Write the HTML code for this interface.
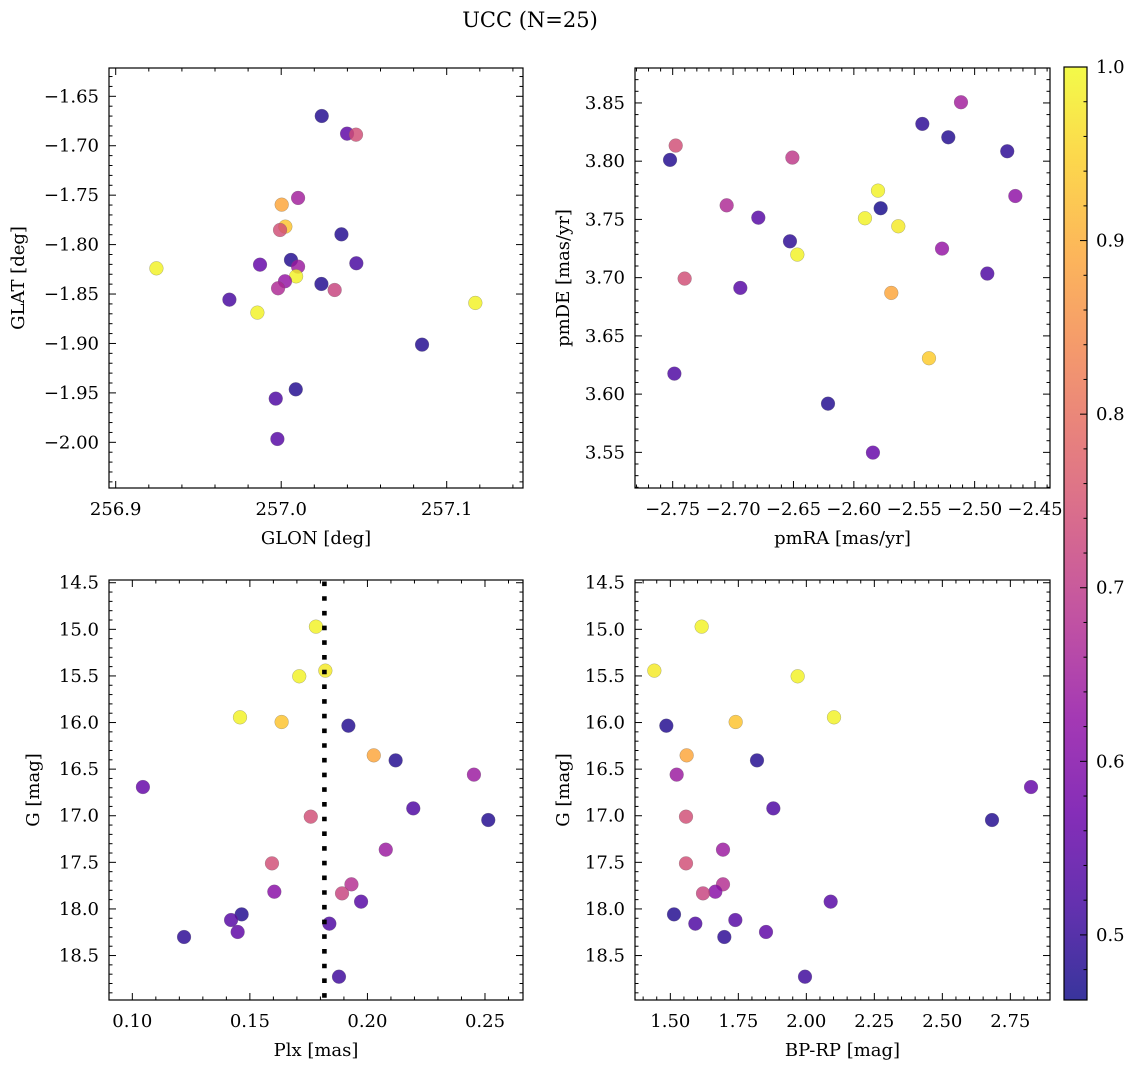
<!DOCTYPE html>
<html><head><meta charset="utf-8"><style>
body{margin:0;background:#fff;}
svg text{font-family:"DejaVu Serif","Liberation Serif",serif;fill:#000;}
</style></head><body>
<svg id="fig" width="1136" height="1067" xmlns="http://www.w3.org/2000/svg">
<rect width="1136" height="1067" fill="#fff"/>
<text x="530" y="27" font-size="21" text-anchor="middle">UCC (N=25)</text>
</svg>
<script>
// ---- Panel 1 data: GLON / GLAT ----
const glon1 = [257.0245,257.0398,257.0452,257.0102,257.0003,257.0025,256.9993,257.0364,256.9246,256.9872,257.0059,257.0102,257.0454,257.0090,256.9687,257.0023,256.9981,257.0243,257.0323,257.1173,256.9856,257.0851,257.0088,256.9967,256.9977];
const glat1 = [-1.6699,-1.6878,-1.6888,-1.7528,-1.7596,-1.7818,-1.7852,-1.7896,-1.8240,-1.8203,-1.8155,-1.8223,-1.8189,-1.8321,-1.8557,-1.8371,-1.8442,-1.8398,-1.8459,-1.8590,-1.8688,-1.9012,-1.9464,-1.9558,-1.9966];
const prob1 = [0.48,0.55,0.74,0.65,0.89,0.93,0.74,0.48,0.99,0.56,0.48,0.64,0.52,0.99,0.52,0.63,0.67,0.48,0.72,0.99,0.99,0.48,0.48,0.53,0.54];
// ---- Panel 2 data: pmRA / pmDE ----
const pmra2 = [-2.5113,-2.5433,-2.5218,-2.4730,-2.7475,-2.7522,-2.6509,-2.5800,-2.4663,-2.7053,-2.5778,-2.6791,-2.5908,-2.5632,-2.6529,-2.6468,-2.5270,-2.4895,-2.7401,-2.6940,-2.5690,-2.5378,-2.7486,-2.6214,-2.5842];
const pmde2 = [3.8506,3.8320,3.8205,3.8085,3.8134,3.8011,3.8031,3.7747,3.7701,3.7621,3.7596,3.7515,3.7510,3.7441,3.7312,3.7198,3.7249,3.7035,3.6992,3.6912,3.6869,3.6308,3.6176,3.5918,3.5498];
const prob2 = [0.65,0.49,0.48,0.49,0.74,0.48,0.70,0.99,0.62,0.67,0.47,0.54,0.99,0.98,0.49,0.99,0.63,0.53,0.74,0.54,0.89,0.94,0.53,0.48,0.56];
// ---- Panels 3 & 4 data: Plx, BP-RP, G ----
const gmag = [14.971,15.443,15.504,15.944,15.994,16.034,16.352,16.406,16.559,16.692,16.921,17.046,17.010,17.364,17.511,17.736,17.815,17.833,17.922,18.058,18.119,18.158,18.247,18.301,18.727];
const plx = [0.1781,0.1821,0.1710,0.1458,0.1635,0.1919,0.2027,0.2120,0.2453,0.1045,0.2195,0.2514,0.1759,0.2078,0.1594,0.1932,0.1604,0.1892,0.1973,0.1465,0.1420,0.1838,0.1448,0.1220,0.1879];
const bprp = [1.6152,1.4412,1.9681,2.1017,1.7402,1.4853,1.5600,1.8186,1.5233,2.8260,1.8787,2.6826,1.5576,1.6936,1.5576,1.6936,1.6654,1.6201,2.0895,1.5135,1.7390,1.5919,1.8517,1.6985,1.9951];
const prob34 = [0.99,0.98,0.99,0.99,0.93,0.48,0.89,0.48,0.64,0.56,0.53,0.48,0.74,0.64,0.74,0.68,0.61,0.72,0.54,0.48,0.54,0.53,0.55,0.49,0.51];
const plxLine = 0.1817;
// ---- ticks ----
const xt1 = [256.9,257.0,257.1], xl1 = ["256.9","257.0","257.1"];
const yt1 = [-1.65,-1.70,-1.75,-1.80,-1.85,-1.90,-1.95,-2.00];
const xt2 = [-2.75,-2.70,-2.65,-2.60,-2.55,-2.50,-2.45];
const yt2 = [3.55,3.60,3.65,3.70,3.75,3.80,3.85];
const xt3 = [0.10,0.15,0.20,0.25];
const ytG = [14.5,15.0,15.5,16.0,16.5,17.0,17.5,18.0,18.5];
const xt4 = [1.50,1.75,2.00,2.25,2.50,2.75];
const cbt = [0.5,0.6,0.7,0.8,0.9,1.0];
const vmin = 0.4625, vmax = 1.0;

const FS = 18;
const NS = "http://www.w3.org/2000/svg";
const svg = document.getElementById('fig');
function mk(tag, attrs, parent){const e=document.createElementNS(NS,tag);for(const k in attrs)e.setAttribute(k,attrs[k]);(parent||svg).appendChild(e);return e;}
const stops=[[13,8,135],[65,4,157],[106,0,168],[143,13,164],[177,42,144],[204,71,120],[225,100,98],[242,132,75],[252,166,54],[252,206,37],[240,249,33]];
function plasma(t){t=Math.max(0,Math.min(1,t));const f=t*10,i=Math.min(9,Math.floor(f)),r=f-i;const a=stops[i],b=stops[i+1];return `rgb(${Math.round(a[0]+(b[0]-a[0])*r)},${Math.round(a[1]+(b[1]-a[1])*r)},${Math.round(a[2]+(b[2]-a[2])*r)})`;}
function fmt(v,d){const s=Math.abs(v).toFixed(d);return (v<0?"\u2212":"")+s;}

function panel(o){
  const g=mk('g',{});
  
  
  const sx=v=>o.x0+(v-o.xd[0])/(o.xd[1]-o.xd[0])*(o.x1-o.x0);
  const sy=v=>o.inv? o.y0+(v-o.yd[0])/(o.yd[1]-o.yd[0])*(o.y1-o.y0) : o.y1-(v-o.yd[0])/(o.yd[1]-o.yd[0])*(o.y1-o.y0);
  for(let i=0;i<o.xs.length;i++){
    const c=mk('circle',{cx:sx(o.xs[i]),cy:sy(o.ys[i]),r:6.9,fill:plasma((o.ps[i]-vmin)/(vmax-vmin)),'fill-opacity':0.82,stroke:'#666','stroke-width':0.5,'stroke-opacity':0.5},g);
    
    
  }
  if(o.vline!==undefined){
    const l=mk('line',{x1:sx(o.vline),x2:sx(o.vline),y1:o.y0+1.5,y2:o.y1,stroke:'#000','stroke-width':4.6,'stroke-dasharray':'4.6 10.1'},g);
    
    
  }
  const tk=(x1,y1,x2,y2)=>mk('line',{x1,y1,x2,y2,stroke:'#000','stroke-width':1},g);
  const eps=1e-9;
  for(let v=Math.ceil(o.xd[0]/o.xm-eps)*o.xm; v<=o.xd[1]+eps; v+=o.xm){const x=sx(v);const len=o.xt.some(t=>Math.abs(t-v)<o.xm/3)?7:3.5;tk(x,o.y1,x,o.y1-len);tk(x,o.y0,x,o.y0+len);}
  const ylo=Math.min(...o.yd),yhi=Math.max(...o.yd);
  for(let v=Math.ceil(ylo/o.ym-eps)*o.ym; v<=yhi+eps; v+=o.ym){const y=sy(v);const len=o.yt.some(t=>Math.abs(t-v)<o.ym/3)?7:3.5;tk(o.x0,y,o.x0+len,y);tk(o.x1,y,o.x1-len,y);}
  mk('rect',{x:o.x0,y:o.y0,width:o.x1-o.x0,height:o.y1-o.y0,fill:'none',stroke:'#000','stroke-width':1.2},g);
  o.xt.forEach((v,i)=>{const t=mk('text',{x:sx(v),y:o.y1+27,'font-size':FS,'text-anchor':'middle'},g);t.textContent=o.xl?o.xl[i]:fmt(v,o.xd_dec);});
  o.yt.forEach(v=>{const t=mk('text',{x:o.x0-10,y:sy(v)+6,'font-size':FS,'text-anchor':'end'},g);t.textContent=fmt(v,o.yd_dec);});
  const xt=mk('text',{x:(o.x0+o.x1)/2,y:o.y1+56,'font-size':FS,'text-anchor':'middle'},g);xt.textContent=o.xlab;
  
  
  const yx=o.ylx, yy=(o.y0+o.y1)/2;
  const yt=mk('text',{x:yx,y:yy,'font-size':FS,'text-anchor':'middle',transform:`rotate(-90 ${yx} ${yy})`},g);yt.textContent=o.ylab;
  
  
}

panel({name:'glon-glat-panel',x0:109,x1:523,y0:68,y1:488,xd:[256.89595,257.1461],yd:[-2.0462,-1.62137],xs:glon1,ys:glat1,ps:prob1,xt:xt1,xl:xl1,yt:yt1,xm:0.02,ym:0.01,yd_dec:2,xlab:'GLON [deg]',ylab:'GLAT [deg]',ylx:24});
panel({name:'pmra-pmde-panel',x0:635,x1:1050,y0:68,y1:488,xd:[-2.7812,-2.4376],yd:[3.5194,3.8800],xs:pmra2,ys:pmde2,ps:prob2,xt:xt2,yt:yt2,xm:0.01,ym:0.01,xd_dec:2,yd_dec:2,xlab:'pmRA [mas/yr]',ylab:'pmDE [mas/yr]',ylx:569});
panel({name:'plx-g-panel',x0:109,x1:523,y0:580,y1:1000,xd:[0.09008,0.26617],yd:[14.4707,18.977],inv:true,xs:plx,ys:gmag,ps:prob34,xt:xt3,yt:ytG,xm:0.01,ym:0.1,xd_dec:2,yd_dec:1,xlab:'Plx [mas]',ylab:'G [mag]',ylx:39,vline:plxLine});
panel({name:'bprp-g-panel',x0:635,x1:1050,y0:580,y1:1000,xd:[1.3701,2.8958],yd:[14.4707,18.977],inv:true,xs:bprp,ys:gmag,ps:prob34,xt:xt4,yt:ytG,xm:0.05,ym:0.1,xd_dec:2,yd_dec:1,xlab:'BP-RP [mag]',ylab:'G [mag]',ylx:569});

const cb=mk('g',{});


const defs=mk('defs',{},cb);
const lg=mk('linearGradient',{id:'pl',x1:0,y1:1,x2:0,y2:0},defs);
for(let i=0;i<=20;i++){const t=i/20;mk('stop',{offset:t,'stop-color':plasma(t),'stop-opacity':0.82},lg);}
const cbx0=1064,cbx1=1087,cby0=67,cby1=1000;
mk('rect',{x:cbx0,y:cby0,width:cbx1-cbx0,height:cby1-cby0,fill:'url(#pl)'},cb);
const cy=v=>cby1-(v-vmin)/(vmax-vmin)*(cby1-cby0);
for(let k=24;k<=50;k++){const v=k*0.02;if(v<vmin)continue;const y=cy(v);const major=Math.abs(v*10-Math.round(v*10))<1e-6;mk('line',{x1:cbx1,x2:cbx1-(major?7:3.5),y1:y,y2:y,stroke:'#000','stroke-width':1},cb);}
mk('rect',{x:cbx0,y:cby0,width:cbx1-cbx0,height:cby1-cby0,fill:'none',stroke:'#000','stroke-width':1.2},cb);
cbt.forEach(v=>{const t=mk('text',{x:1096,y:cy(v)+6,'font-size':FS},cb);t.textContent=v.toFixed(1);});
</script>
</body></html>
